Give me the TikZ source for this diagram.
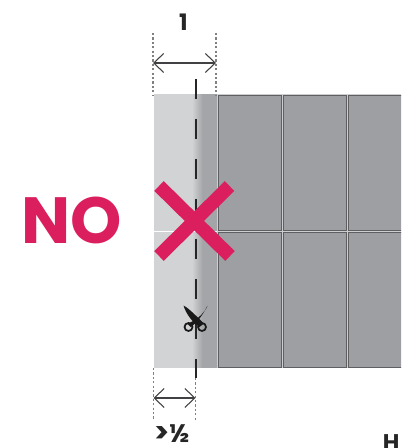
\documentclass[tikz,border=0pt]{standalone}
\usepackage{fontspec}
\setmainfont{Poppins}
\usetikzlibrary{arrows.meta,calc,positioning}
\definecolor{stripgray}{RGB}{209,211,212}
\definecolor{stripdark}{RGB}{163,165,168}
\definecolor{brickgray}{RGB}{157,159,162}
\definecolor{brickline}{RGB}{95,95,98}
\definecolor{gapgray}{RGB}{205,206,208}
\definecolor{arrowgray}{RGB}{65,64,66}
\definecolor{warnred}{RGB}{219,31,94}
\tikzset{
 brick/.style={draw=brickline,line width=.6pt,fill=brickgray},
 guide/.style={draw=black!50,line width=.9pt,dash pattern=on 1.6pt off 1.7pt},
 measure/.style={draw=arrowgray,line width=.8pt,{Straight Barb[length=2.6mm,width=5mm]}-{Straight Barb[length=2.6mm,width=5mm]}},
 cutline/.style={draw=black!85,line width=1.5pt,dash pattern=on 14.8pt off 15.2pt},
 label/.style={text=black!85},
}
\begin{document}
\begin{tikzpicture}[x=.75pt,y=-.75pt,line cap=butt,line join=miter]
 \useasboundingbox (0,0) rectangle (401,448);
 \clip (0,0) rectangle (401,448);
 % strip left of the bricks
 \fill[gapgray] (153.5,94.5) rectangle (401,368);
 \fill[stripgray] (153.5,94.5) rectangle (217,367.5);
 \fill[stripdark] (202,94.5) rectangle (217,367.5);
 \shade[left color=stripgray,right color=stripdark] (192,94.5) rectangle (202.5,367.5);
 \draw[white,line width=.7pt] (153.5,231.5)--(217,231.5);
 % bricks
 \foreach \x/\w in {218.5/62.5,283/63,348/70}{
  \foreach \y/\h in {95.5/134.5,232.5/134.5}{
   \draw[brick] (\x,\y) rectangle ({\x+\w},{\y+\h});
  }
 }
 % cut line
 \coordinate (cuttop) at (195.5,79);
 \coordinate (cutbot) at (195.5,378);
 \draw[cutline] (cuttop)--(cutbot);
 % width marks
 \coordinate (topl) at (153,33);
 \coordinate (topr) at (216,33);
 \draw[guide] (topl)--(153,95);
 \draw[guide] (topr)--(216,95);
 \draw[measure] (153,63)--(216,63);
 \coordinate (botl) at (153.5,368);
 \coordinate (botr) at (195.5,378);
 \draw[guide] (botl)--(153.5,420);
 \draw[guide] (botr)--(195.5,420);
 \draw[measure] (153.5,398)--(195.5,398);
 \node[label,font=\bfseries\fontsize{17}{17}\selectfont] (one) at (183.5,22) {1};
 \node[label,font=\bfseries\fontsize{19}{19}\selectfont,inner sep=0pt] (half) at (172,433.5) {{\fontsize{21}{21}\selectfont>}½};
 \node[label,font=\bfseries\fontsize{17}{17}\selectfont,anchor=north west,inner sep=0pt] (cutoff) at (382.5,434.5) {H};
 % scissors
 \fill[black!90] (183.5,305.5) .. controls (190,309) and (198,318) .. (204,323.5)--(199.5,327)
  .. controls (193,323) and (186,314) .. cycle;
 \fill[black!90] (207.5,305.5) .. controls (206,311) and (197,321) .. (187,323.5)--(190.5,327)
  .. controls (196,324) and (203,315) .. cycle;
 \draw[black!90,line width=1.3pt] (188.5,327) circle(4);
 \draw[black!90,line width=1.3pt] (202,327) circle(4);
 % the cross and the verdict
 \draw[warnred,line width=10.2pt] (159,186)--(230,256);
 \draw[warnred,line width=10.2pt] (229.5,186)--(159,256);
 \node[font=\bfseries\fontsize{49}{49}\selectfont,text=warnred,inner sep=0pt] (verdict) at (72,220) {NO};
\end{tikzpicture}
\end{document}
